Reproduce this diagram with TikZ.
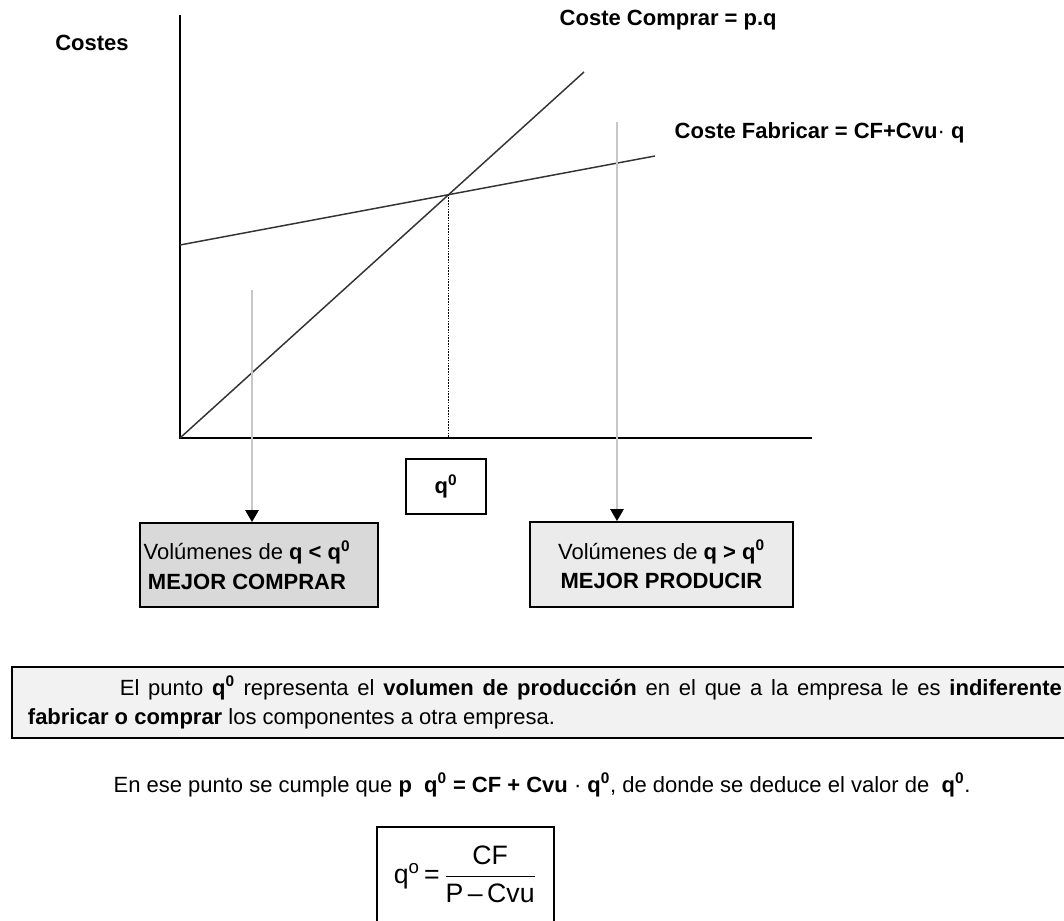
\documentclass[tikz,border=0pt]{standalone}
\usepackage{fontspec}
\setmainfont{Liberation Sans}
\usetikzlibrary{arrows.meta}
\newcommand{\qcero}{q\textsuperscript{0}}

\begin{document}
\begin{tikzpicture}[x=0.75pt,y=0.75pt,
	eje/.style={line width=1.5pt},
	recta/.style={line width=1.1pt,black!80},
	guia/.style={line width=1.4pt,black!22,-{Triangle[black,length=9pt,width=10pt]}},
	caja/.style={draw,line width=1.4pt,align=center,inner sep=0pt},
	txt/.style={font=\fontsize{16.5}{22}\selectfont}]
	\useasboundingbox (0,0) rectangle (1064,921);
	% ejes
	\coordinate (O) at (180,483);
	\coordinate (ytop) at (180,906);
	\coordinate (xend) at (812,483);
	\draw[eje] (ytop) -- (O) -- (xend);
	\node[txt,font=\fontsize{16.5}{22}\selectfont\bfseries] (costes) at (92,878) {Costes};

	% rectas de coste
	\coordinate (c1) at (584,849);
	\coordinate (f0) at (180,676);
	\coordinate (f1) at (655,765);
	\draw[recta] (O) -- (c1);
	\draw[recta] (f0) -- (f1);
	\coordinate (P) at (intersection of O--c1 and f0--f1);
	\draw[densely dotted,line width=1.1pt] (P) -- (P |- O);
	\node[anchor=west,font=\fontsize{16.5}{22}\selectfont\bfseries] (lcomprar) at (555,901) {Coste Comprar = p.q};
	\node[anchor=west,font=\fontsize{16.5}{22}\selectfont\bfseries] (lfabricar) at (670,788) {Coste Fabricar = CF+Cvu{\mdseries·} q};

	% cajas
	\node[caja,txt,font=\fontsize{16.5}{22}\selectfont\bfseries,minimum width=60pt,minimum height=41.25pt] (qc) at (446,434.5) {\qcero};
	\node[caja,txt,fill=black!15,minimum width=178.5pt,minimum height=63pt] (comprar) at (259,356)
		{Volúmenes de \textbf{q < \qcero}\hspace*{18pt}\\\textbf{MEJOR COMPRAR}\hspace*{18pt}};
	\node[caja,txt,fill=black!8,minimum width=197.25pt,minimum height=63.75pt] (producir) at (661.5,356.5)
		{Volúmenes de \textbf{q > \qcero}\\\textbf{MEJOR PRODUCIR}};
	\coordinate (a1) at (252,631);
	\coordinate (a2) at (617,799);
	\draw[guia] (a1) -- (a1 |- comprar.north);
	\draw[guia] (a2) -- (a2 |- producir.north);

	% texto inferior
	\node[caja,txt,fill=black!5,anchor=north west,text width=775.5pt,inner xsep=12pt,minimum height=53.25pt,align=justify] (parrafo) at (11,255)
		{\hspace*{69pt}El punto \textbf{\qcero} representa el \textbf{volumen de producción} en el que a la empresa le es \textbf{indiferente}\linebreak
		\textbf{fabricar o comprar} los componentes a otra empresa.};
	\node[txt] (igualdad) at (542,136)
		{En ese punto se cumple que \textbf{p\ \ \qcero\ = CF + Cvu} · \textbf{\qcero}, de donde se deduce el valor de \ \textbf{\qcero}.};
	\draw[line width=1pt] (377,-30) rectangle (554,94);
	\node[font=\fontsize{20}{24}\selectfont] (formula) at (465,47)
		{q\textsuperscript{o}\,=\,$\displaystyle\frac{\mbox{CF}}{\mbox{P\,–\,Cvu}}$};
\end{tikzpicture}
\end{document}
